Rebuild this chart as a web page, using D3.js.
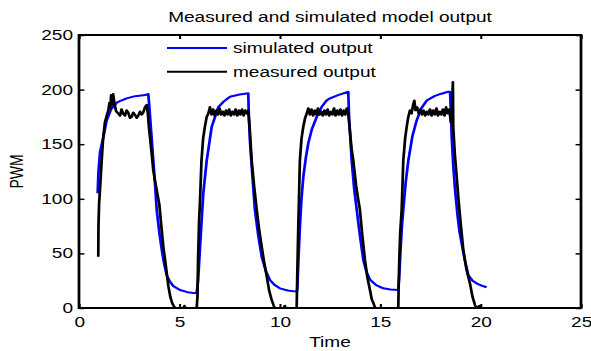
<!DOCTYPE html>
<html>
<head>
<meta charset="utf-8">
<script src="https://cdn.jsdelivr.net/npm/d3@7"></script>
<style>
  body { margin: 0; background: #fff; }
  text { font-family: "Liberation Sans", Arial, sans-serif; }
</style>
</head>
<body>
<div id="chart"></div>
<script>
// tick values
var xTicks = [0, 5, 10, 15, 20, 25];
var yTicks = [0, 50, 100, 150, 200, 250];

// simulated output [time, pwm]
var simulated = [
  [0.93,105],[0.97,125],[1.05,143],[1.21,156],[1.38,172],[1.6,182],[1.88,188],[2.1,190],[2.37,192],[2.8,194],[3.3,195],[3.45,196],
  [3.5,185],[3.6,160],[3.7,135],[3.8,110],[3.87,90],[3.95,77],[4.03,65],[4.15,50],[4.25,40],[4.37,30],[4.5,25],[4.7,20],[5.03,16.5],[5.4,14.5],[5.86,13.4],
  [5.93,25],[5.99,44],[6.1,78],[6.19,105],[6.36,135],[6.61,166],[6.94,184],[7.2,189],[7.52,193.5],[8.0,195.5],[8.43,196.6],
  [8.46,175],[8.52,151],[8.64,120],[8.76,90],[8.93,66],[9.1,47],[9.3,34],[9.51,25.6],[9.75,21],[10.0,18],[10.4,16],[10.82,15],
  [10.87,16.5],[10.93,45],[11.0,74],[11.08,100],[11.17,120],[11.3,138],[11.42,151],[11.6,164],[11.84,175],[12.08,184],[12.33,190],[12.5,192],[12.9,195],[13.41,198],
  [13.45,175],[13.5,160],[13.58,135],[13.7,110],[13.83,90],[14.0,65],[14.16,44],[14.32,33],[14.49,26],[14.8,21],[15.15,18],[15.5,17],[15.9,16.5],
  [15.95,30],[16.02,55],[16.08,75],[16.15,90],[16.27,115],[16.4,135],[16.6,157],[16.82,172],[17.05,183],[17.32,190],[17.7,194],[18.0,196],[18.39,198],[18.48,198],
  [18.52,180],[18.56,157],[18.64,130],[18.72,110],[18.85,85],[18.95,70],[19.06,59],[19.2,45],[19.39,30],[19.6,25],[19.8,22.6],[20.05,20.5],[20.3,19]
];

// measured output [time, pwm]
var measured = [
  [0.96,47],[0.97,75],[1.0,95],[1.05,110],[1.13,135],[1.2,155],[1.29,170],[1.38,176],[1.46,181],[1.52,188],[1.56,183],[1.6,195],[1.65,186],[1.7,196],[1.76,188],[1.85,180],
  [1.96,178],[2.04,176],[2.12,182],[2.2,178],[2.29,176],[2.37,181],[2.45,179],[2.54,174],[2.62,175],[2.7,179],[2.79,177],[2.87,174],[2.95,176],[3.04,180],[3.12,177],[3.2,179],[3.29,184],[3.37,186],
  [3.43,178],[3.48,166],[3.6,145],[3.7,126],[3.8,115],[3.9,105],[4.0,95],[4.1,75],[4.2,56],[4.3,42],[4.37,32],[4.45,20],[4.55,10],[4.65,4],[4.78,0],[5.2,0],[5.25,2],[5.3,0],[5.86,0],
  [5.9,10],[5.93,44],[5.98,80],[6.02,95],[6.1,135],[6.18,155],[6.27,166],[6.36,175],[6.44,178],[6.52,184],[6.6,177],[6.68,182],[6.76,176],[6.84,181],[6.92,177],[7.0,183],[7.08,177],[7.16,180],
  [7.24,176],[7.32,181],[7.4,177],[7.48,182],[7.56,176],[7.64,180],[7.72,177],[7.8,182],[7.88,176],[7.96,181],[8.04,177],[8.12,182],[8.2,176],[8.28,181],[8.36,178],[8.43,181],
  [8.5,165],[8.6,135],[8.72,112],[8.85,90],[8.97,72],[9.1,56],[9.22,42],[9.35,29],[9.47,16],[9.6,7],[9.7,2],[9.76,0],[10.2,0],[10.25,2],[10.3,0],[10.84,0],
  [10.87,30],[10.92,74],[11.0,135],[11.08,155],[11.17,166],[11.26,174],[11.34,178],[11.42,183],[11.5,177],[11.58,182],[11.66,176],[11.74,181],[11.82,177],[11.9,183],[11.98,177],[12.06,180],
  [12.14,176],[12.22,181],[12.3,177],[12.38,182],[12.46,176],[12.54,180],[12.62,177],[12.7,183],[12.78,176],[12.86,181],[12.94,177],[13.02,182],[13.1,176],[13.18,181],[13.26,177],[13.34,183],[13.41,178],
  [13.5,160],[13.58,145],[13.66,135],[13.8,112],[13.9,100],[13.99,90],[14.1,68],[14.24,44],[14.36,28],[14.49,16.5],[14.58,8],[14.66,4.6],[14.75,0],[15.9,0],
  [15.92,20],[15.95,44],[16.0,70],[16.07,90],[16.15,135],[16.24,155],[16.32,166],[16.4,175],[16.48,181],[16.56,178],[16.64,186],[16.7,190],[16.76,181],[16.84,184],[16.92,178],[17.0,182],
  [17.08,177],[17.16,181],[17.24,176],[17.32,180],[17.4,177],[17.48,182],[17.56,176],[17.64,181],[17.72,177],[17.8,183],[17.88,176],[17.96,180],[18.04,177],[18.12,182],[18.2,176],[18.28,184],[18.36,178],[18.44,182],
  [18.52,170],[18.58,186],[18.62,207],[18.64,165],[18.72,140],[18.81,120],[18.9,99],[19.02,75],[19.14,53],[19.3,35],[19.47,22.6],[19.6,10],[19.72,2.7],[19.8,0],[19.95,2],[20.0,0],[20.1,0]
];

var legendItems = [
  { label: "simulated output", color: "#0000ff" },
  { label: "measured output", color: "#000000" }
];

// the original picture is stretched sideways, so draw in a narrower
// coordinate system and let the viewBox stretch it
var stretch = 1.36;
var outW = 591, outH = 351;
var W = outW / stretch;
var margin = {top: 35, right: W - 581 / stretch, bottom: outH - 308, left: 79 / stretch};
var width = W - margin.left - margin.right;
var height = outH - margin.top - margin.bottom;

var root = d3.select("#chart")
  .append("svg")
  .attr("width", outW)
  .attr("height", outH)
  .attr("viewBox", "0 0 " + W + " " + outH)
  .attr("preserveAspectRatio", "none");

var svg = root.append("g")
  .attr("transform", "translate(" + margin.left + "," + margin.top + ")");

var x = d3.scaleLinear().domain([0, 25]).range([0, width]);
var y = d3.scaleLinear().domain([0, 250]).range([height, 0]);

var line = d3.line()
  .x(d => x(d[0]))
  .y(d => y(d[1]));

// lines
svg.append("path")
  .datum(simulated)
  .attr("fill", "none")
  .attr("stroke", "#0000ff")
  .attr("stroke-width", 2)
  .attr("stroke-linejoin", "round")
  .attr("d", line);

svg.append("path")
  .datum(measured)
  .attr("fill", "none")
  .attr("stroke", "#000")
  .attr("stroke-width", 2)
  .attr("stroke-linejoin", "round")
  .attr("d", line);

// axes, ticks pointing inward
var fs = "14px";
var xAxis = svg.append("g")
  .attr("transform", "translate(0," + height + ")")
  .call(d3.axisBottom(x).tickValues(xTicks).tickSizeInner(-4).tickSizeOuter(0).tickPadding(9));
var yAxis = svg.append("g")
  .call(d3.axisLeft(y).tickValues(yTicks).tickSizeInner(-4).tickSizeOuter(0).tickPadding(4.4));
var xTop = svg.append("g")
  .call(d3.axisTop(x).tickValues(xTicks).tickSizeInner(-4).tickSizeOuter(0).tickFormat(""));
var yRight = svg.append("g")
  .attr("transform", "translate(" + width + ",0)")
  .call(d3.axisRight(y).tickValues(yTicks).tickSizeInner(-4).tickSizeOuter(0).tickFormat(""));

[xAxis, yAxis, xTop, yRight].forEach(function(g) {
  g.select(".domain").remove();
  g.selectAll("line").attr("stroke", "#000").attr("stroke-width", 1.5);
  g.selectAll("text").attr("font-size", fs).attr("fill", "#000")
    .style("font-family", '"Liberation Sans", Arial, sans-serif');
});

// box
svg.append("rect")
  .attr("width", width)
  .attr("height", height)
  .attr("fill", "none")
  .attr("stroke", "#000")
  .attr("stroke-width", 2);

// title and labels
svg.append("text")
  .attr("x", width / 2)
  .attr("y", 22 - margin.top)
  .attr("text-anchor", "middle")
  .attr("font-size", fs)
  .text("Measured and simulated model output");

svg.append("text")
  .attr("x", width / 2)
  .attr("y", 347 - margin.top)
  .attr("text-anchor", "middle")
  .attr("font-size", fs)
  .text("Time");

svg.append("text")
  .attr("transform", "translate(" + (23 / stretch - margin.left) + "," + (height / 2) + ") rotate(-90)")
  .attr("text-anchor", "middle")
  .attr("font-size", fs)
  .text("PWM");

// legend (no box)
var legend = svg.selectAll(".legend")
  .data(legendItems)
  .enter().append("g")
  .attr("class", "legend")
  .attr("transform", (d, i) => "translate(" + (167 / stretch - margin.left) + "," + (48 + i * 23.7 - margin.top) + ")");

legend.append("line")
  .attr("x1", 0)
  .attr("x2", 60 / stretch)
  .attr("stroke", d => d.color)
  .attr("stroke-width", 2);

legend.append("text")
  .attr("x", 66 / stretch)
  .attr("y", 5)
  .attr("font-size", fs)
  .text(d => d.label);
</script>
</body>
</html>
